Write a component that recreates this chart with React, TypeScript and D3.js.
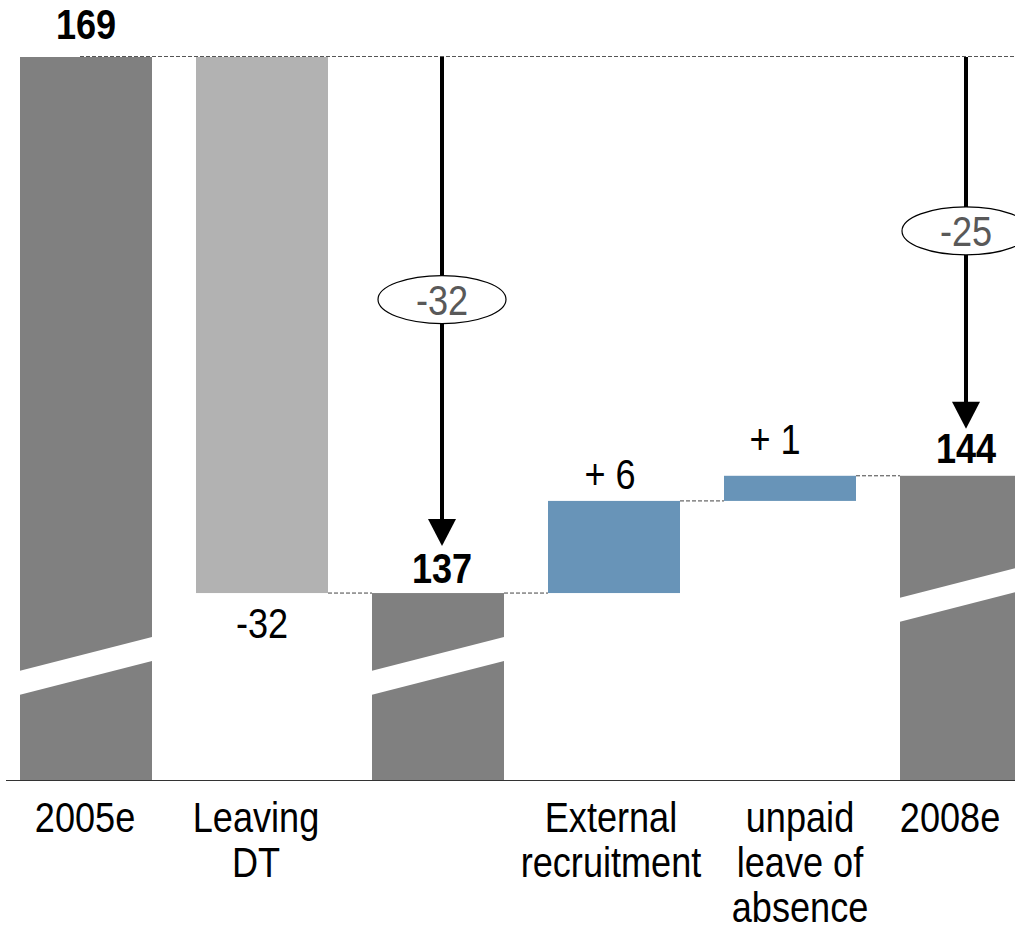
import React from "react";
import * as d3 from "d3";

const categories = ["2005e", "Leaving DT", "137", "External recruitment", "unpaid leave of absence", "2008e"];
const axisLabels: string[][] = [["2005e"], ["Leaving", "DT"], [], ["External", "recruitment"], ["unpaid", "leave of", "absence"], ["2008e"]];
const kinds = ["total", "neg", "total", "pos", "pos", "total"];
const values = [169, -32, 137, 5.5, 1.5, 144];
const valueLabels = ["169", "-32", "137", "+ 6", "+ 1", "144"];
const arrowLabels = ["-32", "-25"];
const arrowTargets = [2, 5];

const W = 1015;
const H = 927;
const FONT = "'Liberation Sans', Arial, sans-serif";
const colors: Record<string, string> = { total: "#808080", neg: "#b2b2b2", pos: "#6894b8" };
const breakOffset: Record<number, number> = { 0: 109, 2: 109, 5: 182 };
const labelDx = [-1, -6, 0, -3, 10, -16];
const valueDx = [0, 0, 4, -4, -15, 0];
const totalGap = [18, 0, 10, 0, 0, 13];

function T(props: { x: number; y: number; size: number; bold?: boolean; fill?: string; sx?: number; children: React.ReactNode }) {
  const sx = props.sx ?? 0.86;
  return (
    <text
      transform={`translate(${props.x},${props.y}) scale(${sx},1)`}
      textAnchor="middle"
      fontSize={props.size}
      fontWeight={props.bold ? "bold" : "normal"}
      fill={props.fill ?? "#000"}
    >
      {props.children}
    </text>
  );
}

export default function App() {
  const x = d3.scaleBand<string>().domain(categories).range([-2, 1054]).paddingInner(0.25).paddingOuter(0.125);
  const y = d3.scaleLinear().domain([125.84, 169]).range([780, 57]);
  const bw = x.bandwidth();

  let running = 0;
  const segs = values.map((v, i) => {
    let lo: number, hi: number;
    if (kinds[i] === "total") {
      lo = y.domain()[0];
      hi = v;
      running = v;
    } else {
      const start = running;
      const end = running + v;
      lo = Math.min(start, end);
      hi = Math.max(start, end);
      running = end;
    }
    return { i, lo, hi, x0: x(categories[i])!, end: running };
  });

  const base = y.range()[0];
  const connectors: { x1: number; x2: number; yy: number }[] = [];
  for (let i = 2; i < segs.length; i++) {
    const prev = segs[i - 1];
    const cur = segs[i];
    connectors.push({ x1: prev.x0 + bw, x2: cur.x0, yy: y(prev.end) });
  }

  return (
    <svg width={W} height={H} style={{ position: "absolute", left: 0, top: 0, background: "#fff" }} fontFamily={FONT}>
      <line x1={80} x2={W} y1={y(values[0]) - 0.5} y2={y(values[0]) - 0.5} stroke="#555" strokeWidth={1} strokeDasharray="4 2" />
      {connectors.map((c, k) => (
        <line key={k} x1={c.x1} x2={c.x2} y1={c.yy} y2={c.yy} stroke="#444" strokeWidth={1} strokeDasharray="4 2" />
      ))}
      {segs.map((s) => (
        <rect key={s.i} x={s.x0} y={y(s.hi)} width={bw} height={y(s.lo) - y(s.hi)} fill={colors[kinds[s.i]]} />
      ))}
      {segs
        .filter((s) => breakOffset[s.i] !== undefined)
        .map((s) => {
          const off = breakOffset[s.i];
          const rise = bw * 0.26;
          const th = 24;
          const xl = s.x0 - 1;
          const xr = s.x0 + bw + 1;
          const yl = base - off;
          const pts = [
            [xl, yl],
            [xr, yl - rise],
            [xr, yl - rise + th],
            [xl, yl + th],
          ];
          return <polygon key={"b" + s.i} points={pts.map((p) => p.join(",")).join(" ")} fill="#fff" />;
        })}
      <line x1={6} x2={W} y1={base + 0.5} y2={base + 0.5} stroke="#333" strokeWidth={1.2} />
      {segs.map((s) => {
        const cx = s.x0 + bw / 2 + valueDx[s.i];
        const k = kinds[s.i];
        if (k === "total") {
          return (
            <T key={"v" + s.i} x={cx} y={y(s.hi) - totalGap[s.i]} size={43} bold sx={0.84}>
              {valueLabels[s.i]}
            </T>
          );
        }
        if (k === "neg") {
          return (
            <T key={"v" + s.i} x={cx} y={y(s.lo) + 45} size={42}>
              {valueLabels[s.i]}
            </T>
          );
        }
        const gap = s.i === 4 ? 22 : 12;
        return (
          <T key={"v" + s.i} x={cx} y={y(s.hi) - gap} size={42}>
            {valueLabels[s.i]}
          </T>
        );
      })}
      {arrowTargets.map((t, k) => {
        const s = segs[t];
        const ax = s.x0 + bw / 2 + (k === 0 ? 4 : 0);
        const y0 = y(values[0]);
        const tip = y(s.hi) - 47;
        const headH = 27;
        const mid = (y0 + tip) / 2 + (k === 0 ? -2 : -12);
        return (
          <g key={"a" + k}>
            <line x1={ax} x2={ax} y1={y0} y2={tip - headH + 1} stroke="#000" strokeWidth={4} />
            <polygon points={`${ax - 14},${tip - headH} ${ax + 14},${tip - headH} ${ax},${tip}`} fill="#000" />
            <ellipse cx={ax} cy={mid} rx={64} ry={24} fill="#fff" stroke="#000" strokeWidth={1.2} />
            <T x={ax} y={mid + 15} size={42} fill="#595959">
              {arrowLabels[k]}
            </T>
          </g>
        );
      })}
      {axisLabels.map((lines, i) =>
        lines.map((ln, j) => (
          <T key={"c" + i + "-" + j} x={x(categories[i])! + bw / 2 + labelDx[i]} y={832 + j * 45} size={42}>
            {ln}
          </T>
        ))
      )}
    </svg>
  );
}
